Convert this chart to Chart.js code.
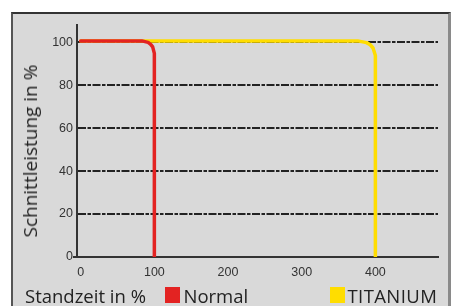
<!DOCTYPE html>
<html>
<head>
<meta charset="utf-8">
<script src="https://cdn.jsdelivr.net/npm/chart.js@4/dist/chart.umd.min.js"></script>
<style>
  html, body { margin: 0; padding: 0; background: #ffffff; }
  #wrap { position: relative; width: 451px; height: 306px; overflow: hidden; }
  #panel { position: absolute; left: 11px; top: 12px; width: 435px; height: 294px;
           background: #d9d9d9; border-top: 2px solid #333; border-left: 2px solid #555; border-right: 3px solid #8a8a8a; box-sizing: content-box; }
  canvas { position: absolute; left: 0; top: 0; }
  .txt { position: absolute; font-family: "Open Sans", sans-serif; color: #222; white-space: nowrap; }
  #ytitle { font-size: 19px; line-height: 19px; left: 0; top: 0; transform-origin: 0 0; }
  .bottom { font-size: 18.5px; top: 286.5px; line-height: 18.5px; }
  .sw { position: absolute; width: 15px; height: 16px; top: 287px; }
</style>
</head>
<body>
<div id="wrap">
  <div id="panel"></div>
  <canvas id="c" width="451" height="306"></canvas>
  <div id="ytitle" class="txt">Schnittleistung in %</div>
  <div class="txt bottom" style="left:25px">Standzeit in %</div>
  <div class="sw" style="left:165px;background:#e32322"></div>
  <div id="lgN" class="txt bottom" style="left:183.5px">Normal</div>
  <div class="sw" style="left:330px;background:#ffdd00"></div>
  <div id="lgT" class="txt bottom" style="left:347.5px;letter-spacing:0.4px">TITANIUM</div>
</div>
<script>
// Data (x: Standzeit in %, y: Schnittleistung in %)
const normalX = [0, 83, 91.5, 95, 97.7, 100, 100];
const normalY = [100.6, 100.6, 99.9, 99.0, 97.8, 94.8, 0];
const titanX  = [0, 376, 388, 393, 396.8, 400, 400];
const titanY  = [100.6, 100.6, 99.8, 98.8, 97.3, 93.8, 0];
const xTicks = [0, 100, 200, 300, 400];
const yTicks = [0, 20, 40, 60, 80, 100];
const seriesNames = ['Normal', 'TITANIUM'];
const seriesColors = ['#e32322', '#ffdd00'];

const toPts = (xs, ys) => xs.map((x, i) => ({x: x, y: ys[i]}));

const chart = new Chart(document.getElementById('c'), {
  type: 'scatter',
  data: {
    datasets: [
      { label: seriesNames[0], data: toPts(normalX, normalY), showLine: true, borderColor: seriesColors[0], borderWidth: 3.5, pointRadius: 0, tension: 0, borderJoinStyle: 'round', borderCapStyle: 'round' },
      { label: seriesNames[1], data: toPts(titanX, titanY), showLine: true, borderColor: seriesColors[1], borderWidth: 3.5, pointRadius: 0, tension: 0, borderJoinStyle: 'round', borderCapStyle: 'round' }
    ]
  },
  options: {
    responsive: false,
    animation: false,
    events: [],
    layout: { padding: { top: 25, right: 13, left: 0, bottom: 0 } },
    plugins: { legend: { display: false }, tooltip: { enabled: false } },
    scales: {
      x: {
        type: 'linear', min: -5, max: 485,
        afterBuildTicks: s => { s.ticks = xTicks.map(v => ({value: v})); },
        afterFit: s => { s.height = 49; },
        ticks: { font: { family: 'Liberation Sans, Arial, sans-serif', size: 12.5 }, color: '#333', padding: 3, maxRotation: 0, autoSkip: false },
        grid: { drawOnChartArea: false, drawTicks: true, tickLength: 5, tickWidth: 2, tickColor: 'rgba(0,0,0,0)' },
        border: { display: true, color: '#333', width: 2 }
      },
      y: {
        type: 'linear', min: 0, max: 108,
        afterBuildTicks: s => { s.ticks = yTicks.map(v => ({value: v})); },
        afterFit: s => { s.width = 77; },
        ticks: { font: { family: 'Liberation Sans, Arial, sans-serif', size: 12.5 }, color: '#333', padding: 0 },
        grid: { drawOnChartArea: true, drawTicks: true, tickLength: 4, lineWidth: 2,
                color: ctx => ctx.tick && ctx.tick.value === 0 ? 'rgba(0,0,0,0)' : '#222',
                tickColor: ctx => ctx.tick && ctx.tick.value === 0 ? '#333' : 'rgba(0,0,0,0)', tickWidth: 2 },
        border: { display: true, color: '#333', width: 2, dash: [8, 1.5, 3.5, 1.5] }
      }
    }
  }
});

// place rotated y-axis title: centered at y ~151, baseline near x ~38
const yt = document.getElementById('ytitle');
const w = yt.offsetWidth;
const cy = 151;
yt.style.transform = 'translate(21px,' + (cy + w / 2) + 'px) rotate(-90deg)';
</script>
</body>
</html>
